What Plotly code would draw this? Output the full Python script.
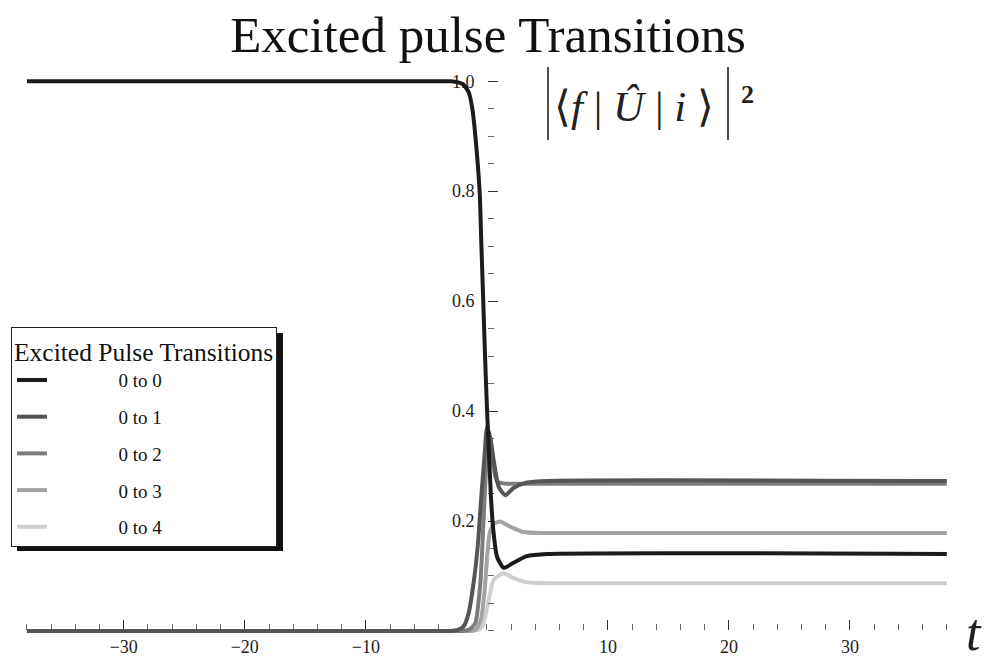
import plotly.graph_objects as go

# ---------------- data ----------------
t_00 = [-38, -4, -3, -2, -1.5, -1.2, -0.95, -0.6, -0.45, -0.3, -0.15, 0, 0.1, 0.35, 0.56, 0.84, 1.38, 2.2, 3.3, 5, 38]
p_00 = [1.0, 1.0, 1.0, 0.995, 0.98, 0.95, 0.9, 0.8, 0.7, 0.6, 0.5, 0.41, 0.36, 0.238, 0.178, 0.135, 0.115, 0.124, 0.136, 0.14, 0.14]

t_01 = [-38, -4, -3, -2.4, -1.93, -1.51, -1.1, -0.76, -0.48, -0.2, 0.02, 0.3, 0.56, 0.98, 1.53, 2.2, 3.3, 5, 38]
p_01 = [0, 0, 0, 0.002, 0.008, 0.032, 0.087, 0.153, 0.238, 0.317, 0.371, 0.35, 0.311, 0.262, 0.247, 0.26, 0.27, 0.273, 0.273]

t_02 = [-38, -3, -2, -1.4, -0.95, -0.54, -0.26, -0.04, 0.12, 0.4, 0.84, 1.5, 3, 5, 38]
p_02 = [0, 0, 0, 0.003, 0.015, 0.087, 0.208, 0.31, 0.36, 0.32, 0.272, 0.268, 0.268, 0.268, 0.268]

t_03 = [-38, -3, -1.5, -0.9, -0.5, -0.2, 0.23, 0.6, 1.1, 1.9, 3.0, 5, 38]
p_03 = [0, 0, 0, 0.003, 0.02, 0.07, 0.178, 0.195, 0.199, 0.19, 0.18, 0.178, 0.178]

t_04 = [-38, -3, -1.2, -0.6, -0.3, 0.15, 0.56, 1.38, 2.2, 3.3, 5, 38]
p_04 = [0, 0, 0, 0.003, 0.012, 0.056, 0.093, 0.105, 0.096, 0.0885, 0.087, 0.087]

series_names = ["0 to 0", "0 to 1", "0 to 2", "0 to 3", "0 to 4"]
series_t = [t_00, t_01, t_02, t_03, t_04]
series_p = [p_00, p_01, p_02, p_03, p_04]
series_colors = ["#1c1c1c", "#555555", "#7d7d7d", "#a3a3a3", "#cfcfcf"]

x_tick_vals = [-30, -20, -10, 10, 20, 30]
x_tick_text = ["\u221230", "\u221220", "\u221210", "10", "20", "30"]
y_tick_vals = [0.2, 0.4, 0.6, 0.8, 1.0]
y_tick_text = ["0.2", "0.4", "0.6", "0.8", "1.0"]

# ---------------- layout geometry ----------------
W, H = 990, 660
L, R, T, B = 10, 42, 62, 12
XR = [-39.4, 38.1]
YR = [-0.031, 1.035]
PW, PH = W - L - R, H - T - B


def paper_x(px):
    return (px - L) / PW


def paper_y(py):
    return (H - B - py) / PH


FONT = "Liberation Serif"
PAD = "\u00a0" * 14

fig = go.Figure()
for i in range(5):
    fig.add_trace(go.Scatter(
        x=series_t[i], y=series_p[i], mode="lines", name=PAD + series_names[i],
        line=dict(color=series_colors[i], width=4, shape="spline", smoothing=0.6),
        legendgroup=series_names[i], zorder=5 - i,
    ))

x0_pos = (0 - XR[0]) / (XR[1] - XR[0])
y0_pos = (0 - YR[0]) / (YR[1] - YR[0])

fig.update_layout(
    xaxis=dict(
        range=XR, showgrid=False, zeroline=False, showline=True, automargin=False,
        linecolor="#8a8a8a", linewidth=1.5,
        ticks="inside", ticklen=10, tickwidth=1, tickcolor="#333333",
        tickmode="array", tickvals=x_tick_vals, ticktext=x_tick_text,
        minor=dict(ticks="inside", ticklen=6, dtick=2, tick0=0, tickwidth=1, tickcolor="#666666"),
        anchor="free", position=y0_pos,
        tickfont=dict(family=FONT, size=18, color="#222222"),
    ),
    yaxis=dict(
        range=YR, showgrid=False, zeroline=False, showline=True, automargin=False,
        linecolor="#8a8a8a", linewidth=1.5,
        ticks="inside", ticklen=10, tickwidth=1, tickcolor="#333333",
        tickmode="array", tickvals=y_tick_vals, ticktext=y_tick_text,
        minor=dict(ticks="inside", ticklen=6, dtick=0.05, tick0=0, tickwidth=1, tickcolor="#666666"),
        anchor="free", position=x0_pos, ticklabelstandoff=8,
        tickfont=dict(family=FONT, size=18, color="#222222"),
    ),
)

# legend drop shadow and the tall bars of the |<f|U|i>|^2 label
LEG_TOP = 327
fig.add_shape(type="rect", xref="paper", yref="paper",
              x0=paper_x(17), x1=paper_x(283), y0=paper_y(551), y1=paper_y(LEG_TOP + 6),
              fillcolor="#111111", line=dict(width=0), layer="above")
for bx in (548, 728):
    fig.add_shape(type="line", xref="paper", yref="paper",
                  x0=paper_x(bx), x1=paper_x(bx), y0=paper_y(67), y1=paper_y(140),
                  line=dict(color="#222222", width=1.6), layer="above")

annotations = [
    dict(text="\u27e8<i>f</i> | <i>\u00db</i> | <i>i</i> \u27e9", x=paper_x(634), y=paper_y(106),
         font=dict(family=FONT, size=43, color="#222222")),
    dict(text="<b>2</b>", x=paper_x(747), y=paper_y(95), font=dict(family=FONT, size=26, color="#222222")),
    dict(text="<i>t</i>", x=paper_x(974), y=paper_y(632), font=dict(family=FONT, size=52, color="#222222")),
]
for a in annotations:
    a.update(xref="paper", yref="paper", showarrow=False, xanchor="center", yanchor="middle")

fig.update_layout(
    width=W, height=H,
    margin=dict(l=L, r=R, t=T, b=B, autoexpand=False),
    font=dict(family=FONT, size=18, color="#222222"),
    paper_bgcolor="white", plot_bgcolor="white",
    title=dict(text="Excited pulse Transitions", x=488 / W, xanchor="center",
               y=1 - 34 / H, yanchor="middle", yref="container", automargin=False,
               font=dict(family=FONT, size=51, color="#111111")),
    legend=dict(
        x=paper_x(11), y=paper_y(LEG_TOP), xanchor="left", yanchor="top",
        bgcolor="white", bordercolor="#222222", borderwidth=1,
        title=dict(text="Excited Pulse Transitions", font=dict(family=FONT, size=25.5, color="#111111")),
        font=dict(family=FONT, size=19, color="#111111"),
        traceorder="grouped", tracegroupgap=9, itemwidth=30,
    ),
    annotations=annotations,
)

fig.write_html("out.html")
